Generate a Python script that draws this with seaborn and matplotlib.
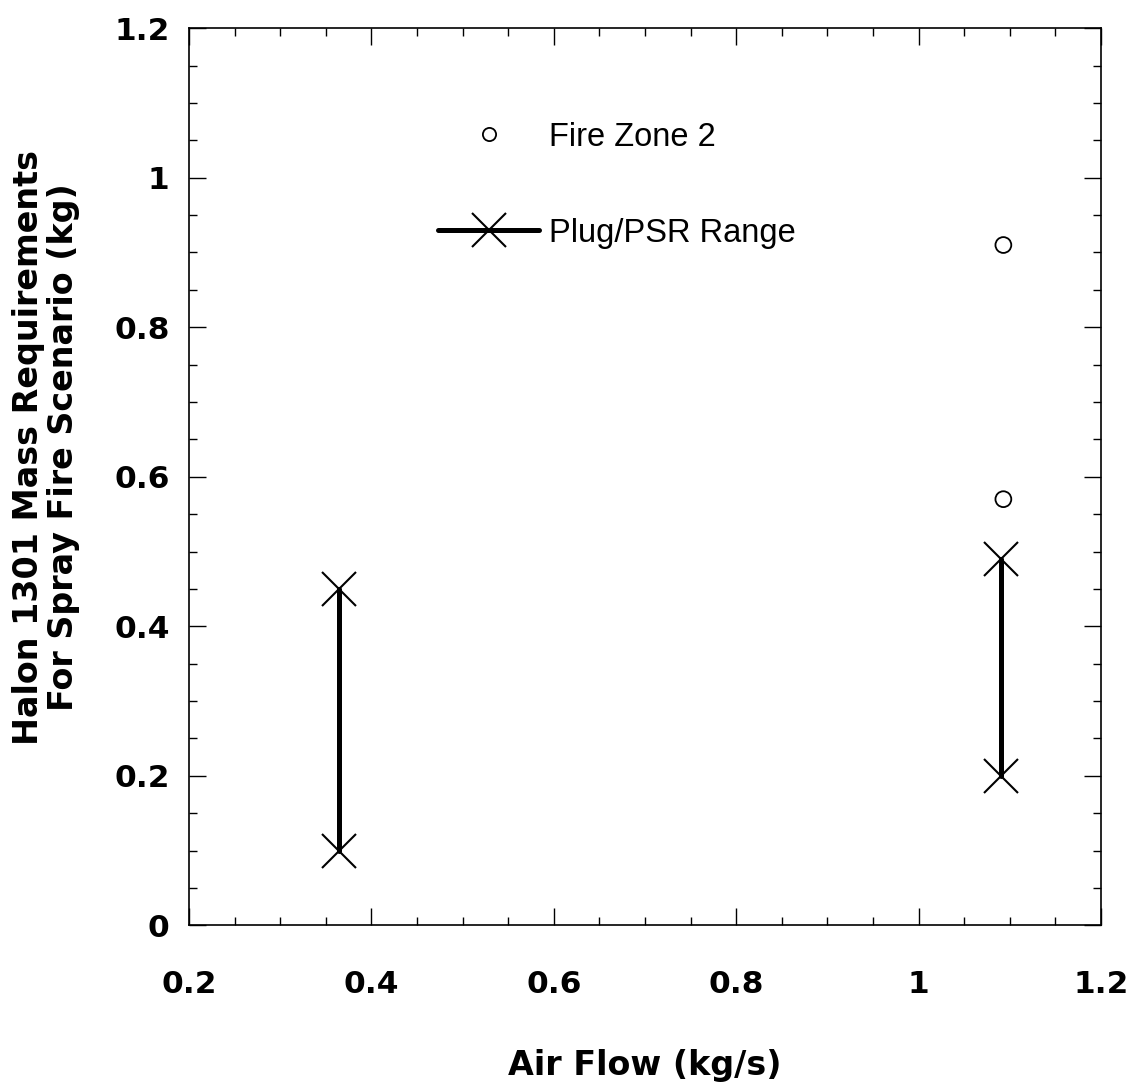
import pandas as pd
import seaborn as sns
import matplotlib.pyplot as plt
from matplotlib.lines import Line2D
from matplotlib.ticker import MultipleLocator, FuncFormatter

# Values
zone_flow = [1.093, 1.093]
zone_mass = [0.91, 0.57]

range_case = ["low flow", "low flow", "high flow", "high flow"]
range_flow = [0.364, 0.364, 1.09, 1.09]
range_mass = [0.45, 0.10, 0.49, 0.20]

x_ticks = [0.2, 0.4, 0.6, 0.8, 1.0, 1.2]
y_ticks = [0, 0.2, 0.4, 0.6, 0.8, 1.0, 1.2]

zone = pd.DataFrame({"flow": zone_flow, "mass": zone_mass})
rng = pd.DataFrame({"case": range_case, "flow": range_flow, "mass": range_mass})

sns.set_style("ticks")
plt.rcParams["font.family"] = ["DejaVu Sans"]
plt.rcParams["text.color"] = "k"
plt.rcParams["axes.labelcolor"] = "k"
plt.rcParams["xtick.color"] = "k"
plt.rcParams["ytick.color"] = "k"

fig = plt.figure(figsize=(11.35, 10.86), dpi=100)
ax = fig.add_axes([0.1665, 0.148, 0.8035, 0.826])

# Plug/PSR range bars
sns.lineplot(data=rng, x="flow", y="mass", units="case", estimator=None, sort=False,
             color="k", lw=3.6, marker="x", markersize=24, markeredgewidth=1.5,
             markeredgecolor="k", legend=False, ax=ax)

# Fire zone 2 points
sns.scatterplot(data=zone, x="flow", y="mass", marker="o", s=130, color="k",
                facecolor="none", edgecolor="k", linewidth=1.3, legend=False, ax=ax)

ax.set_xlim(0.2, 1.2)
ax.set_ylim(0, 1.2)
ax.set_xticks(x_ticks)
ax.set_yticks(y_ticks)
ax.xaxis.set_minor_locator(MultipleLocator(0.05))
ax.yaxis.set_minor_locator(MultipleLocator(0.05))
fmt = FuncFormatter(lambda v, p: f"{v:g}")
ax.xaxis.set_major_formatter(fmt)
ax.yaxis.set_major_formatter(fmt)

ax.tick_params(which="both", direction="in", top=True, right=True, color="k", width=1.0)
ax.tick_params(which="major", length=12)
ax.tick_params(which="minor", length=6)
ax.tick_params(axis="x", which="major", pad=32)
ax.tick_params(axis="y", which="major", pad=14)
for lab in ax.get_xticklabels() + ax.get_yticklabels():
    lab.set_fontsize(22.5)
    lab.set_fontweight("bold")
    lab.set_color("k")
for s in ax.spines.values():
    s.set_linewidth(1.2)
    s.set_color("k")

ax.set_xlabel("Air Flow (kg/s)", fontsize=24, fontweight="bold", labelpad=36, color="k")
ax.set_ylabel("Halon 1301 Mass Requirements\nFor Spray Fire Scenario (kg)",
              fontsize=24, fontweight="bold", linespacing=1.05, color="k")
ax.yaxis.set_label_coords(-0.12, 0.533)

handles = [
    Line2D([], [], ls="none", marker="o", mfc="none", mec="k", ms=9.5, mew=1.3),
    Line2D([], [], color="k", lw=3.6, marker="x", ms=24, mew=1.5, mec="k"),
]
leg = ax.legend(handles, ["Fire Zone 2", "Plug/PSR Range"], loc="upper left",
                bbox_to_anchor=(0.273, 0.896), frameon=False, borderpad=0, borderaxespad=0,
                handlelength=3.1, handletextpad=0.3, labelspacing=2.0, numpoints=1,
                prop={"family": "Liberation Sans", "size": 23.5})
for t in leg.get_texts():
    t.set_color("k")

fig.savefig("out.png", dpi=100)
